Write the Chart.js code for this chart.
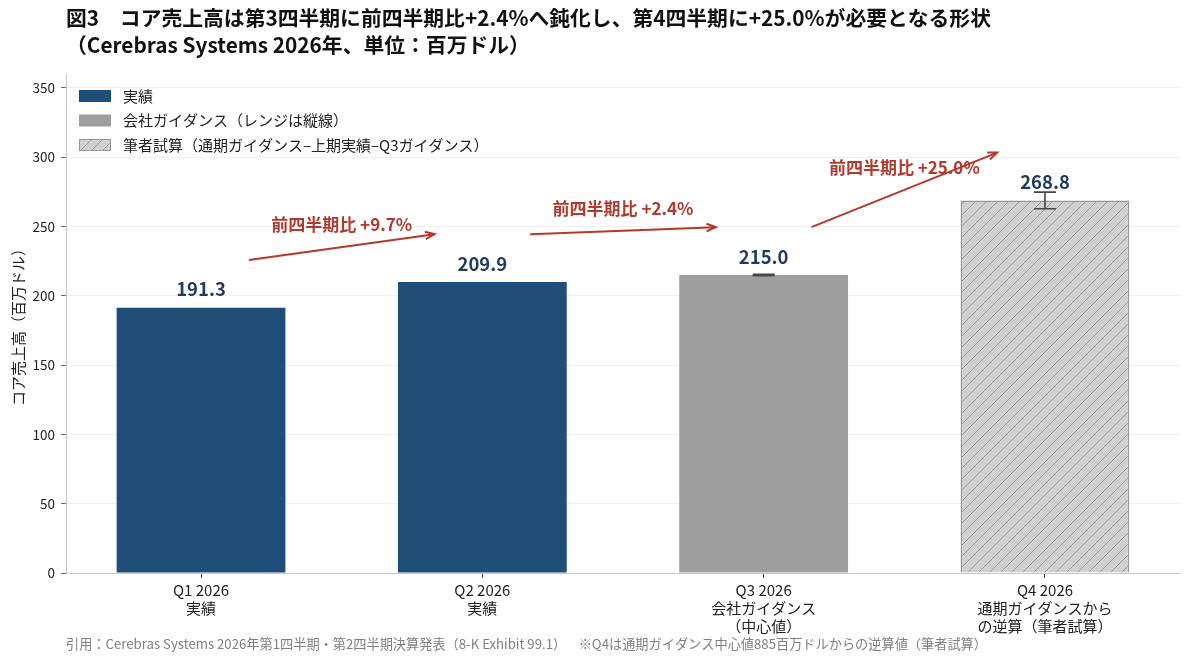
<!DOCTYPE html>
<html>
<head>
<meta charset="utf-8">
<script src="https://cdn.jsdelivr.net/npm/chart.js@4.4.1/dist/chart.umd.min.js"></script>
<style>
  body { margin: 0; background: #fff; }
  canvas { display: block; }
</style>
</head>
<body>
<canvas id="c" width="1189" height="661"></canvas>
<script>
// data
const quarters = ['Q1 2026', 'Q2 2026', 'Q3 2026', 'Q4 2026'];
const subLabels = [['実績'], ['実績'], ['会社ガイダンス', '（中心値）'], ['通期ガイダンスから', 'の逆算（筆者試算）']];
const revenue = [191.3, 209.9, 215.0, 268.8];
const kinds = ['actual', 'actual', 'guide', 'estimate'];
const rangeLow = [null, null, 214.5, 262.8];
const rangeHigh = [null, null, 215.5, 274.8];
const yTicks = [0, 50, 100, 150, 200, 250, 300, 350];

const titleLines = [
  '図3　コア売上高は第3四半期に前四半期比+2.4%へ鈍化し、第4四半期に+25.0%が必要となる形状',
  '（Cerebras Systems 2026年、単位：百万ドル）'
];
const legendItems = [
  ['actual', '実績'],
  ['guide', '会社ガイダンス（レンジは縦線）'],
  ['estimate', '筆者試算（通期ガイダンス–上期実績–Q3ガイダンス）']
];
const source = '引用：Cerebras Systems 2026年第1四半期・第2四半期決算発表（8-K Exhibit 99.1）　  ※Q4は通期ガイダンス中心値885百万ドルからの逆算値（筆者試算）';

const FONT = '"Noto Sans CJK JP", "Noto Sans", sans-serif';
const NAVY = '#1f4e79';
const GREY = '#9e9e9e';
const RED = '#b5382c';

const ctx0 = document.getElementById('c').getContext('2d');

function makeHatch() {
  const t = document.createElement('canvas');
  t.width = t.height = 11;
  const g = t.getContext('2d');
  g.fillStyle = '#d0d0d0';
  g.fillRect(0, 0, 11, 11);
  g.strokeStyle = '#9c9c9c';
  g.lineWidth = 1;
  g.beginPath();
  g.moveTo(0, 11); g.lineTo(11, 0);
  g.moveTo(-5.5, 5.5); g.lineTo(5.5, -5.5);
  g.moveTo(5.5, 16.5); g.lineTo(16.5, 5.5);
  g.stroke();
  return ctx0.createPattern(t, 'repeat');
}
const hatch = makeHatch();
const fills = { actual: NAVY, guide: GREY, estimate: hatch };

function arrow(ctx, x0, y0, x1, y1) {
  ctx.beginPath();
  ctx.moveTo(x0, y0);
  ctx.lineTo(x1, y1);
  ctx.stroke();
  const a = Math.atan2(y1 - y0, x1 - x0), L = 10, w = 0.38;
  ctx.beginPath();
  ctx.moveTo(x1 - L * Math.cos(a - w), y1 - L * Math.sin(a - w));
  ctx.lineTo(x1, y1);
  ctx.lineTo(x1 - L * Math.cos(a + w), y1 - L * Math.sin(a + w));
  ctx.stroke();
}

const overlay = {
  id: 'overlay',
  afterDatasetsDraw(chart) {
    const { ctx, scales: { x, y } } = chart;
    ctx.save();
    // range whiskers
    ctx.strokeStyle = '#474747';
    ctx.lineWidth = 1.6;
    revenue.forEach((v, i) => {
      if (rangeLow[i] == null) return;
      const px = x.getPixelForValue(i);
      const lo = y.getPixelForValue(rangeLow[i]);
      const hi = y.getPixelForValue(rangeHigh[i]);
      ctx.beginPath();
      ctx.moveTo(px, lo); ctx.lineTo(px, hi);
      ctx.moveTo(px - 11, lo); ctx.lineTo(px + 11, lo);
      ctx.moveTo(px - 11, hi); ctx.lineTo(px + 11, hi);
      ctx.stroke();
    });
    // value labels
    ctx.fillStyle = '#1f3b5e';
    ctx.font = 'bold 18.5px ' + FONT;
    ctx.textAlign = 'center';
    ctx.textBaseline = 'middle';
    revenue.forEach((v, i) => {
      ctx.fillText(v.toFixed(1), x.getPixelForValue(i), y.getPixelForValue(v + 13.3));
    });
    // quarter-over-quarter arrows
    ctx.strokeStyle = RED;
    ctx.lineWidth = 2;
    ctx.font = 'bold 17px ' + FONT;
    ctx.fillStyle = '#b03a2e';
    for (let i = 0; i < revenue.length - 1; i++) {
      const y0 = revenue[i] + 34.5, y1 = revenue[i + 1] + 34.5;
      arrow(ctx, x.getPixelForValue(i + 0.17), y.getPixelForValue(y0),
                 x.getPixelForValue(i + 0.83), y.getPixelForValue(y1));
      const pct = (revenue[i + 1] / revenue[i] - 1) * 100;
      ctx.fillText('前四半期比 +' + pct.toFixed(1) + '%', x.getPixelForValue(i + 0.5),
                   y.getPixelForValue((y0 + y1) / 2 + 16.3));
    }
    ctx.restore();
  },
  afterDraw(chart) {
    const { ctx } = chart;
    ctx.save();
    // title
    ctx.fillStyle = '#111';
    ctx.font = 'bold 20.8px ' + FONT;
    ctx.textAlign = 'left';
    ctx.textBaseline = 'middle';
    ctx.fillText(titleLines[0], 66, 18);
    ctx.fillText(titleLines[1], 66, 45);
    // legend
    ctx.font = '15px ' + FONT;
    legendItems.forEach(([k, text], j) => {
      const cy = 96 + j * 24.5;
      ctx.fillStyle = fills[k];
      ctx.fillRect(79, cy - 6, 32, 12);
      if (k === 'estimate') {
        ctx.strokeStyle = '#999';
        ctx.lineWidth = 1;
        ctx.strokeRect(79.5, cy - 5.5, 31, 11);
      }
      ctx.fillStyle = '#222';
      ctx.fillText(text, 123, cy);
    });
    // source note
    ctx.fillStyle = '#808080';
    ctx.font = '13.2px ' + FONT;
    ctx.fillText(source, 66, 644);
    ctx.restore();
  }
};

new Chart(ctx0, {
  type: 'bar',
  data: {
    datasets: [{
      data: revenue.map((v, i) => ({ x: i, y: v })),
      backgroundColor: kinds.map(k => fills[k]),
      borderColor: kinds.map(k => k === 'estimate' ? '#999' : 'rgba(0,0,0,0)'),
      borderWidth: kinds.map(k => k === 'estimate' ? 1.5 : 0),
      barPercentage: 0.6,
      categoryPercentage: 1
    }]
  },
  options: {
    responsive: false,
    animation: false,
    layout: { padding: { top: 74, right: 9, bottom: 0, left: 0 } },
    plugins: {
      legend: { display: false },
      title: { display: false },
      tooltip: { enabled: false }
    },
    scales: {
      x: {
        type: 'linear',
        min: -0.48,
        max: 3.48,
        offset: false,
        afterBuildTicks: s => { s.ticks = quarters.map((q, i) => ({ value: i })); },
        afterFit: s => { s.height = 88; },
        ticks: {
          autoSkip: false,
          maxRotation: 0,
          padding: 3,
          color: '#222',
          font: { family: FONT, size: 15, lineHeight: 1.2 },
          callback: v => [quarters[v]].concat(subLabels[v])
        },
        grid: { offset: false, drawOnChartArea: false, tickLength: 5, tickColor: '#444' },
        border: { color: '#c8c8c8', width: 1 }
      },
      y: {
        min: 0,
        max: 360,
        afterBuildTicks: s => { s.ticks = yTicks.map(v => ({ value: v })); },
        afterFit: s => { s.width = 66; },
        ticks: { padding: 6, color: '#222', font: { family: FONT, size: 13.5 } },
        grid: { color: '#ebebeb', lineWidth: 0.8, tickLength: 5, tickColor: '#444' },
        border: { color: '#c8c8c8', width: 1 },
        title: {
          display: true,
          text: 'コア売上高（百万ドル）',
          color: '#222',
          font: { family: FONT, size: 15 },
          padding: { top: 9, bottom: 0 }
        }
      }
    }
  },
  plugins: [overlay]
});
</script>
</body>
</html>
